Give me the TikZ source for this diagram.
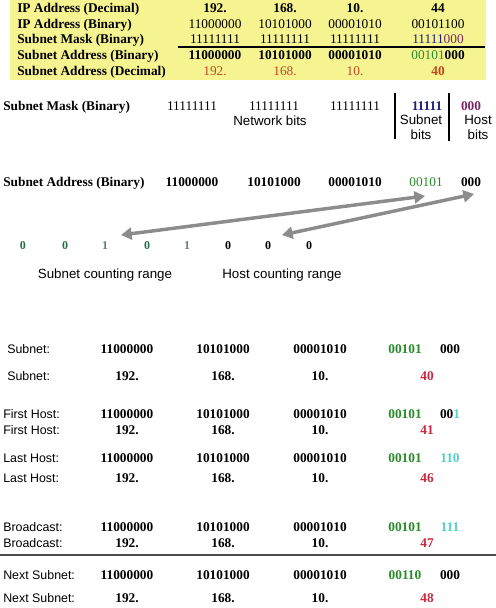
\documentclass[tikz,border=0pt]{standalone}
\usepackage{fontspec}
\setmainfont{Liberation Serif}
\setsansfont{Liberation Sans}
\usetikzlibrary{arrows.meta}
\definecolor{bgyel}{RGB}{246,243,145}
\definecolor{decred}{RGB}{192,72,32}
\definecolor{navy}{RGB}{30,30,120}
\definecolor{plum}{RGB}{120,40,100}
\definecolor{bitgreen}{RGB}{40,140,40}
\definecolor{cntgreen}{RGB}{40,110,70}
\definecolor{cntgray}{RGB}{100,130,110}
\definecolor{numred}{RGB}{200,40,60}
\definecolor{hostcyan}{RGB}{80,210,200}
\definecolor{arrgray}{RGB}{140,140,140}
\begin{document}
\begin{tikzpicture}[x=0.75pt,y=-0.75pt,
 txt/.style={inner sep=0pt, text height=7pt, text depth=0.5pt},
 lab/.style={txt, anchor=west, font=\fontsize{10}{12}\selectfont\bfseries},
 num/.style={txt, font=\fontsize{10}{12}\selectfont},
 bnum/.style={txt, font=\fontsize{10}{12}\selectfont\bfseries},
 sans/.style={txt, font=\fontsize{10}{12}\selectfont\sffamily},
 slab/.style={txt, anchor=west, font=\fontsize{9.3}{11}\selectfont\sffamily},
 bar/.style={line width=2.2pt},
 rng/.style={arrgray, line width=2.6pt, {Triangle[width=9pt,length=8pt]}-{Triangle[width=9pt,length=8pt]}},
]
\useasboundingbox (0,0) rectangle (496,608);
\fill[bgyel] (10,0) rectangle (486,80);

% ---------- top table ----------
\node[lab] (tl1) at (17,8)  {IP Address (Decimal)};
\node[lab] (tl2) at (17,24) {IP Address (Binary)};
\node[lab] (tl3) at (17,39) {Subnet Mask (Binary)};
\node[lab] (tl4) at (17,55) {Subnet Address (Binary)};
\node[lab] (tl5) at (17,71) {Subnet Address (Decimal)};

\foreach \v/\x [count=\i] in {192./215,168./285,10./355,44/438}
  \node[bnum] (ta\i) at (\x,8) {\v};
\foreach \v/\x [count=\i] in {11000000/215,10101000/285,00001010/355,00101100/438}
  \node[num] (tb\i) at (\x,24) {\v};
\foreach \x [count=\i] in {215,285,355}
  \node[num] (tc\i) at (\x,39) {11111111};
\node[num] (tc4) at (438,39) {\textcolor{navy}{11111}\textcolor{plum}{000}};
\coordinate (lineL) at (178,47);
\coordinate (lineR) at (485,47);
\draw[line width=0.8pt] (lineL) -- (lineR);
\foreach \v/\x [count=\i] in {11000000/215,10101000/285,00001010/355}
  \node[bnum] (td\i) at (\x,55) {\v};
\node[bnum] (td4) at (438,55) {\textcolor{bitgreen}{\mdseries 00101}000};
\foreach \v/\x [count=\i] in {192./215,168./285,10./355}
  \node[num, text=decred] (te\i) at (\x,71) {\v};
\node[bnum, text=decred] (te4) at (438,71) {40};

% ---------- mask breakdown ----------
\node[lab] (ml) at (3,106) {Subnet Mask (Binary)};
\foreach \x [count=\i] in {192,274,355}
  \node[num] (mb\i) at (\x,106) {11111111};
\node[sans] (netbits) at (270,121) {Network bits};
\coordinate (b1t) at (395,93);  \coordinate (b1b) at (395,139);
\coordinate (b2t) at (449,93);  \coordinate (b2b) at (449,141);
\draw[bar] (b1t) -- (b1b);
\draw[bar] (b2t) -- (b2b);
\node[bnum, text=navy] (msub) at (427,106) {11111};
\node[bnum, text=plum] (mhost) at (471,106) {000};
\node[sans] (sb1) at (421,120) {Subnet};
\node[sans] (sb2) at (421,135) {bits};
\node[sans] (hb1) at (478,120) {Host};
\node[sans] (hb2) at (478,135) {bits};

% ---------- subnet address ----------
\node[lab] (al) at (3,182) {Subnet Address (Binary)};
\foreach \v/\x [count=\i] in {11000000/192,10101000/274,00001010/355}
  \node[bnum] (ab\i) at (\x,182) {\v};
\node[num, text=bitgreen] (asub) at (426,182) {00101};
\node[bnum] (ahost) at (471,182) {000};

% ---------- counting ----------
\foreach \v/\x/\c [count=\i] in {0/23/cntgreen,0/65/cntgreen,1/105/cntgray,0/147/cntgreen,1/187/cntgray,0/228/black,0/268/black,0/309/black}
  \node[bnum, text=\c, font=\fontsize{9}{11}\selectfont\bfseries] (cd\i) at (\x,245) {\v};
\node[sans] (scr) at (105,274) {Subnet counting range};
\node[sans] (hcr) at (282,274) {Host counting range};

\coordinate (a1r) at (425,196);
\coordinate (a1l) at (121,235);
\coordinate (a2r) at (474,194);
\coordinate (a2l) at (282,235);
\draw[rng] (a1l) -- (a1r);
\draw[rng] (a2l) -- (a2r);

% ---------- bottom table ----------
\foreach \lab/\lx/\ya/\yb/\last [count=\r] in
  {Subnet:/7/349/376/000,
   First Host:/3/414/430/00\textcolor{hostcyan}{1},
   Last Host:/3/458/478/\textcolor{hostcyan}{110},
   Broadcast:/3/527/543/\textcolor{hostcyan}{111}}
{
  \node[slab] (bl\r a) at (\lx,\ya) {\lab};
  \node[slab] (bl\r b) at (\lx,\yb) {\lab};
  \node[bnum] (bb\r a) at (127,\ya) {11000000};
  \node[bnum] (bb\r b) at (223,\ya) {10101000};
  \node[bnum] (bb\r c) at (320,\ya) {00001010};
  \node[bnum, text=bitgreen] (bb\r d) at (405,\ya) {00101};
  \node[bnum] (bb\r e) at (450,\ya) {\last};
  \node[bnum] (bd\r a) at (127,\yb) {192.};
  \node[bnum] (bd\r b) at (223,\yb) {168.};
  \node[bnum] (bd\r c) at (320,\yb) {10.};
}
\node[bnum, text=numred] (bd1d) at (427,376) {40};
\node[bnum, text=numred] (bd2d) at (427,430) {41};
\node[bnum, text=numred] (bd3d) at (427,478) {46};
\node[bnum, text=numred] (bd4d) at (427,543) {47};

\coordinate (sepL) at (0,555);
\coordinate (sepR) at (496,555);
\draw[line width=1.1pt, black!70] (sepL) -- (sepR);

\node[slab] (bl5a) at (3,575) {Next Subnet:};
\node[slab] (bl5b) at (3,598) {Next Subnet:};
\node[bnum] (bb5a) at (127,575) {11000000};
\node[bnum] (bb5b) at (223,575) {10101000};
\node[bnum] (bb5c) at (320,575) {00001010};
\node[bnum, text=bitgreen] (bb5d) at (405,575) {00110};
\node[bnum] (bb5e) at (450,575) {000};
\node[bnum] (bd5a) at (127,598) {192.};
\node[bnum] (bd5b) at (223,598) {168.};
\node[bnum] (bd5c) at (320,598) {10.};
\node[bnum, text=numred] (bd5d) at (427,598) {48};
\end{tikzpicture}
\end{document}
